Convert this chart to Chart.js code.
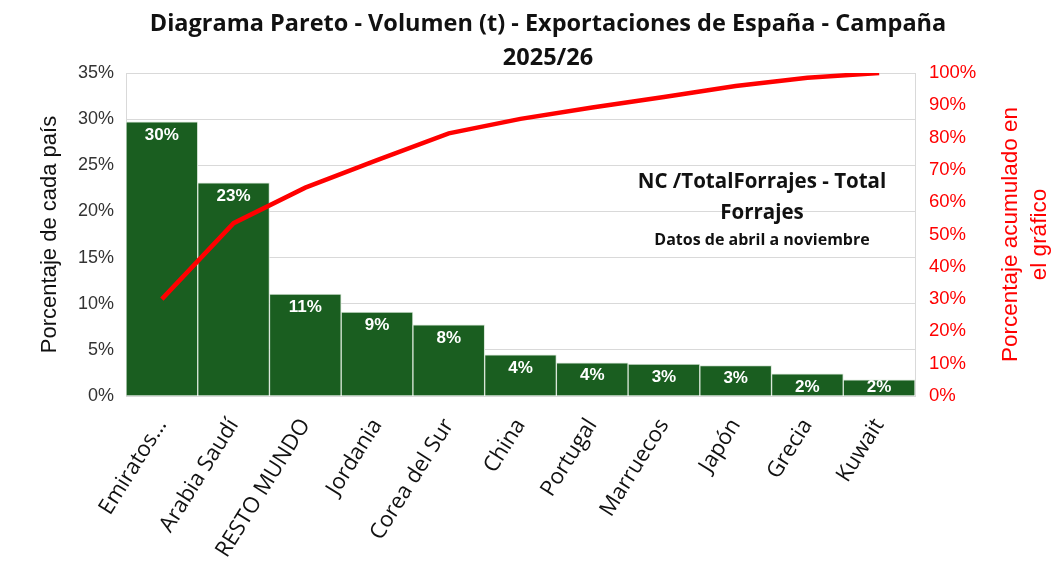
<!DOCTYPE html>
<html>
<head>
<meta charset="utf-8">
<script src="https://cdn.jsdelivr.net/npm/chart.js@4"></script>
<style>
  html, body { margin: 0; padding: 0; background: #fff; }
  #wrap { width: 1057px; height: 577px; }
</style>
</head>
<body>
<div id="wrap"><canvas id="pareto" width="1057" height="577"></canvas></div>
<script>
// datos
const paises = ["Emiratos…", "Arabia Saudí", "RESTO MUNDO", "Jordania", "Corea del Sur", "China", "Portugal", "Marruecos", "Japón", "Grecia", "Kuwait"];
const porcentajePais = [29.7, 23.1, 11.05, 9.1, 7.7, 4.45, 3.6, 3.45, 3.3, 2.4, 1.75];
const etiquetasPais = ["30%", "23%", "11%", "9%", "8%", "4%", "4%", "3%", "3%", "2%", "2%"];
const acumulado = [30, 53.5, 64.5, 73, 81.3, 85.8, 89.3, 92.6, 96, 98.5, 100];

const VERDE = "#1a5e20";
const ROJO = "#ff0000";
const GRIS = "#d9d9d9";

// titulo, anotacion y titulo del eje derecho
const textos = {
  id: "textos",
  afterDraw(chart) {
    const ctx = chart.ctx;
    const area = chart.chartArea;
    ctx.save();
    ctx.textAlign = "center";
    ctx.textBaseline = "middle";
    ctx.fillStyle = "#111111";
    ctx.font = "bold 23.5px 'Open Sans'";
    ctx.fillText("Diagrama Pareto - Volumen (t) - Exportaciones de España - Campaña", 548, 24);
    ctx.fillText("2025/26", 548, 58);

    ctx.font = "bold 20.5px 'Open Sans'";
    ctx.fillText("NC /TotalForrajes - Total", 762, 182);
    ctx.fillText("Forrajes", 762, 213);
    ctx.font = "bold 16px 'Open Sans'";
    ctx.fillText("Datos de abril a noviembre", 762, 240);

    // eje derecho, leido de abajo hacia arriba
    const cy = (area.top + area.bottom) / 2;
    ctx.translate(1025, cy);
    ctx.rotate(-Math.PI / 2);
    ctx.fillStyle = ROJO;
    ctx.font = "22.5px 'Liberation Sans'";
    ctx.fillText("Porcentaje acumulado en", 0, -14);
    ctx.fillText("el gráfico", 0, 15);
    ctx.restore();
  }
};

// etiquetas blancas dentro de las barras
const etiquetasBarras = {
  id: "etiquetasBarras",
  afterDatasetDraw(chart, args) {
    if (args.index !== 1) return;
    const ctx = chart.ctx;
    const fondo = chart.chartArea.bottom;
    ctx.save();
    ctx.fillStyle = "#ffffff";
    ctx.font = "bold 17px 'Liberation Sans'";
    ctx.textAlign = "center";
    ctx.textBaseline = "middle";
    args.meta.data.forEach((bar, i) => {
      ctx.fillText(etiquetasPais[i], bar.x, Math.min(bar.y + 13, fondo - 9));
    });
    ctx.restore();
  }
};

new Chart(document.getElementById("pareto"), {
  data: {
    labels: paises,
    datasets: [
      {
        type: "line",
        data: acumulado,
        yAxisID: "y1",
        borderColor: ROJO,
        borderWidth: 4.5,
        pointRadius: 0,
        tension: 0,
        order: 0
      },
      {
        type: "bar",
        data: porcentajePais,
        yAxisID: "y",
        backgroundColor: VERDE,
        borderColor: "#d8e6d8",
        borderWidth: 1,
        barPercentage: 1,
        categoryPercentage: 1,
        order: 1
      }
    ]
  },
  options: {
    responsive: false,
    animation: false,
    layout: { padding: { top: 73, left: 0, right: 0, bottom: 0 } },
    plugins: {
      legend: { display: false },
      tooltip: { enabled: false }
    },
    scales: {
      x: {
        grid: { display: false },
        border: { color: GRIS },
        ticks: {
          color: "#111111",
          font: { family: "'Open Sans'", size: 22 },
          minRotation: 58,
          maxRotation: 58,
          padding: 10
        },
        afterFit(scale) { scale.height = 181; }
      },
      y: {
        position: "left",
        min: 0,
        max: 35,
        ticks: {
          stepSize: 5,
          color: "#333333",
          font: { family: "'Liberation Sans'", size: 18 },
          padding: 12,
          callback: (v) => v + "%"
        },
        grid: { color: GRIS, drawTicks: false },
        border: { color: GRIS },
        title: {
          display: true,
          text: "Porcentaje de cada país",
          color: "#111111",
          font: { family: "'Liberation Sans'", size: 22 },
          padding: { top: 37 }
        },
        afterFit(scale) { scale.width = 126; }
      },
      y1: {
        position: "right",
        min: 0,
        max: 100,
        ticks: {
          stepSize: 10,
          color: ROJO,
          font: { family: "'Liberation Sans'", size: 18.5 },
          padding: 14,
          callback: (v) => v + "%"
        },
        grid: { display: false, drawTicks: false },
        border: { color: GRIS },
        afterFit(scale) { scale.width = 142; }
      }
    }
  },
  plugins: [textos, etiquetasBarras]
});
</script>
</body>
</html>
